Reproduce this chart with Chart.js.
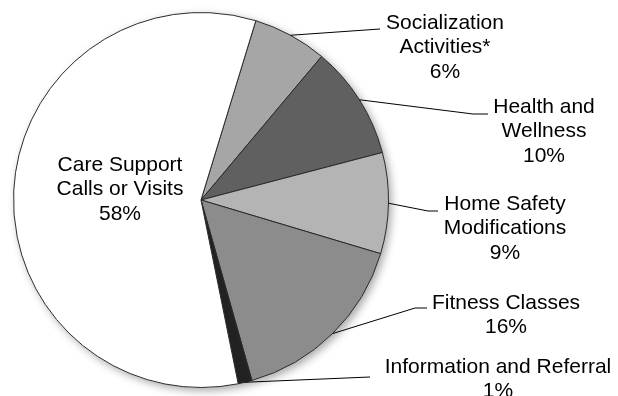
<!DOCTYPE html>
<html>
<head>
<meta charset="utf-8">
<script src="https://cdn.jsdelivr.net/npm/chart.js@4/dist/chart.umd.min.js"></script>
<style>
  html, body { margin: 0; padding: 0; background: #fff; }
  #wrap { width: 618px; height: 396px; position: relative; }
</style>
</head>
<body>
<div id="wrap"><canvas id="pieChart"></canvas></div>
<script>
// slices, clockwise from the top boundary
const categories = [
    ['Socialization', 'Activities*'],
    ['Health and', 'Wellness'],
    ['Home Safety', 'Modifications'],
    ['Fitness Classes'],
    ['Information and Referral'],
    ['Care Support', 'Calls or Visits']
];
const shares = [6.4, 9.8, 8.7, 16.0, 1.2, 57.9];
const sliceColors = ['#a6a6a6', '#606060', '#b4b4b4', '#8c8c8c', '#222222', '#ffffff'];

// label placement: text centre x, first line centre y, leader elbow and end
const labelPos = [
    { x: 445, y: 23, elbow: [380, 29], end: [380, 29] },
    { x: 544, y: 107, elbow: [473, 114], end: [488, 114] },
    { x: 505, y: 204, elbow: [428, 211], end: [438, 211] },
    { x: 506, y: 303, elbow: [415, 308], end: [427, 308] },
    { x: 498, y: 367, elbow: [370, 377], end: [370, 377] },
    { x: 120, y: 165, inside: true }
];

const shadowPlugin = {
    id: 'pieShadow',
    beforeDatasetsDraw(chart) {
        const arc = chart.getDatasetMeta(0).data[0];
        if (!arc) return;
        const ctx = chart.ctx;
        ctx.save();
        ctx.shadowColor = 'rgba(0, 0, 0, 0.35)';
        ctx.shadowBlur = 8;
        ctx.shadowOffsetX = 3;
        ctx.shadowOffsetY = 3;
        ctx.fillStyle = '#fff';
        ctx.beginPath();
        ctx.arc(arc.x, arc.y, arc.outerRadius, 0, Math.PI * 2);
        ctx.fill();
        ctx.restore();
    }
};

const labelPlugin = {
    id: 'sliceLabels',
    afterDatasetsDraw(chart) {
        const ctx = chart.ctx;
        const meta = chart.getDatasetMeta(0);
        const total = shares.reduce((a, b) => a + b, 0);
        ctx.save();
        ctx.font = '21px "Liberation Sans", Arial, sans-serif';
        ctx.fillStyle = '#000';
        ctx.textAlign = 'center';
        ctx.textBaseline = 'middle';
        meta.data.forEach((arc, i) => {
            const p = labelPos[i];
            if (!p.inside) {
                const mid = (arc.startAngle + arc.endAngle) / 2;
                const sx = arc.x + Math.cos(mid) * arc.outerRadius;
                const sy = arc.y + Math.sin(mid) * arc.outerRadius;
                ctx.strokeStyle = '#000';
                ctx.lineWidth = 1;
                ctx.beginPath();
                ctx.moveTo(sx, sy);
                ctx.lineTo(p.elbow[0], p.elbow[1]);
                ctx.lineTo(p.end[0], p.end[1]);
                ctx.stroke();
            }
            const lines = categories[i].concat([Math.round(shares[i] / total * 100) + '%']);
            lines.forEach((t, k) => ctx.fillText(t, p.x, p.y + k * 24.5));
        });
        ctx.restore();
    }
};

new Chart(document.getElementById('pieChart'), {
    type: 'pie',
    data: {
        labels: categories,
        datasets: [{
            data: shares,
            backgroundColor: sliceColors,
            borderColor: '#2a2a2a',
            borderWidth: 1
        }]
    },
    options: {
        responsive: true,
        maintainAspectRatio: false,
        animation: false,
        rotation: 17,
        layout: {
            padding: { left: 13, top: 12, right: 229, bottom: 8 }
        },
        plugins: {
            legend: { display: false },
            tooltip: { enabled: false }
        }
    },
    plugins: [shadowPlugin, labelPlugin]
});
</script>
</body>
</html>
